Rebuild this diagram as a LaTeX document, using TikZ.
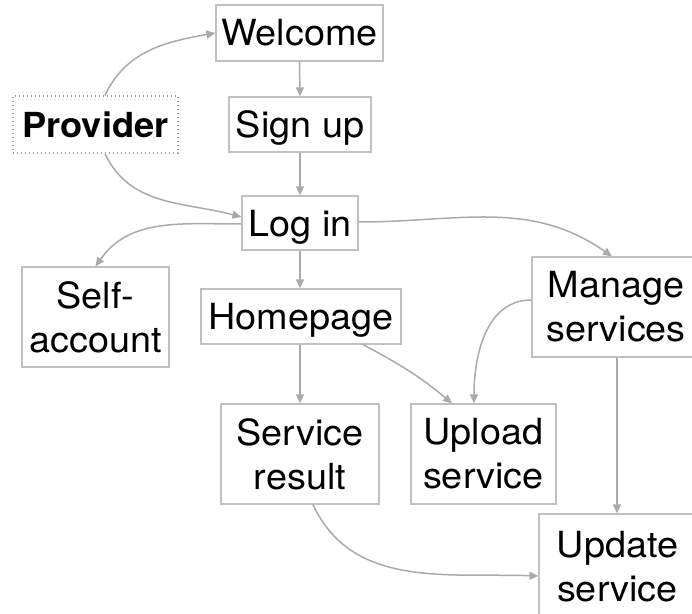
\documentclass[tikz,border=0pt]{standalone}
\usepackage{fontspec}
\setmainfont{TeX Gyre Heros}[FakeStretch=1.05]
\usetikzlibrary{arrows.meta,calc}
\definecolor{edgegray}{RGB}{170,170,170}
\definecolor{boxgray}{RGB}{192,192,192}
\definecolor{dotgray}{RGB}{160,160,160}
\begin{document}
\begin{tikzpicture}[x=1pt,y=1pt,
  box/.style={draw=boxgray,line width=1.2pt,inner sep=0pt,align=center,
    font=\fontsize{36}{44}\selectfont},
  provbox/.style={draw=dotgray,line width=1.2pt,dash pattern=on 1pt off 3pt,inner sep=0pt,
    font=\fontsize{34.5}{44}\selectfont\bfseries},
  conn/.style={draw=edgegray,line width=1.5pt,-{Triangle[length=9pt,width=8pt]}}]
\useasboundingbox (0,0) rectangle (692,613);
\begin{scope}
\clip (0,0) rectangle (692,613);
\node[box,minimum width=167pt,minimum height=56pt] (welcome) at (299.5,580) {Welcome};
\node[box,minimum width=142pt,minimum height=55pt,text depth=0pt] (signup) at (300,488.5) {Sign up};
\node[provbox,minimum width=165pt,minimum height=57pt] (provider) at (95.5,488.5) {Provider};
\node[box,minimum width=116pt,minimum height=54pt,text depth=0pt] (login) at (300,390) {Log in};
\node[box,minimum width=147pt,minimum height=100pt] (self) at (95.5,296) {Self-\\account};
\node[box,minimum width=200pt,minimum height=55pt,text depth=0pt] (home) at (301,296.5) {Homepage};
\node[box,minimum width=158pt,minimum height=100pt] (result) at (300,159) {Service\\result};
\node[box,minimum width=145pt,minimum height=100pt] (upload) at (483.5,159) {Upload\\service};
\node[box,minimum width=168pt,minimum height=100pt] (manage) at (616,306) {Manage\\services};
\node[box,minimum width=157pt,minimum height=106pt] (update) at (617.5,46) {Update\\service};

\draw[conn] ($(provider.north)+(9.5,0)$) to[out=65,in=190] (welcome.west);
\draw[conn] (welcome.south) -- (signup.north);
\draw[conn] (signup.south) -- (login.north);
\draw[conn] ($(provider.south)+(9.5,0)$) to[out=-65,in=165] ($(login.west)+(0,6)$);
\draw[conn] ($(login.west)+(0,-1)$) to[out=180,in=55] (self.north);
\draw[conn] (login.south) -- ($(home.north)+(-1,0)$);
\draw[conn] ($(login.east)+(0,1)$) to[out=0,in=145] ($(manage.north)+(-4,0)$);
\draw[conn] ($(home.south)+(-1,0)$) -- (result.north);
\draw[conn] ($(home.south)+(62,0)$) to[out=-28,in=140] ($(upload.north)+(-31.5,0)$);
\draw[conn] ($(manage.west)+(0,7)$) to[out=180,in=90] ($(upload.north)+(-9.5,0)$);
\draw[conn] ($(manage.south)+(1,0)$) -- ($(update.north)+(-0.5,0)$);
\draw[conn] ($(result.south)+(13,0)$) to[out=-65,in=178] ($(update.west)+(0,-9)$);
\end{scope}
\end{tikzpicture}
\end{document}
